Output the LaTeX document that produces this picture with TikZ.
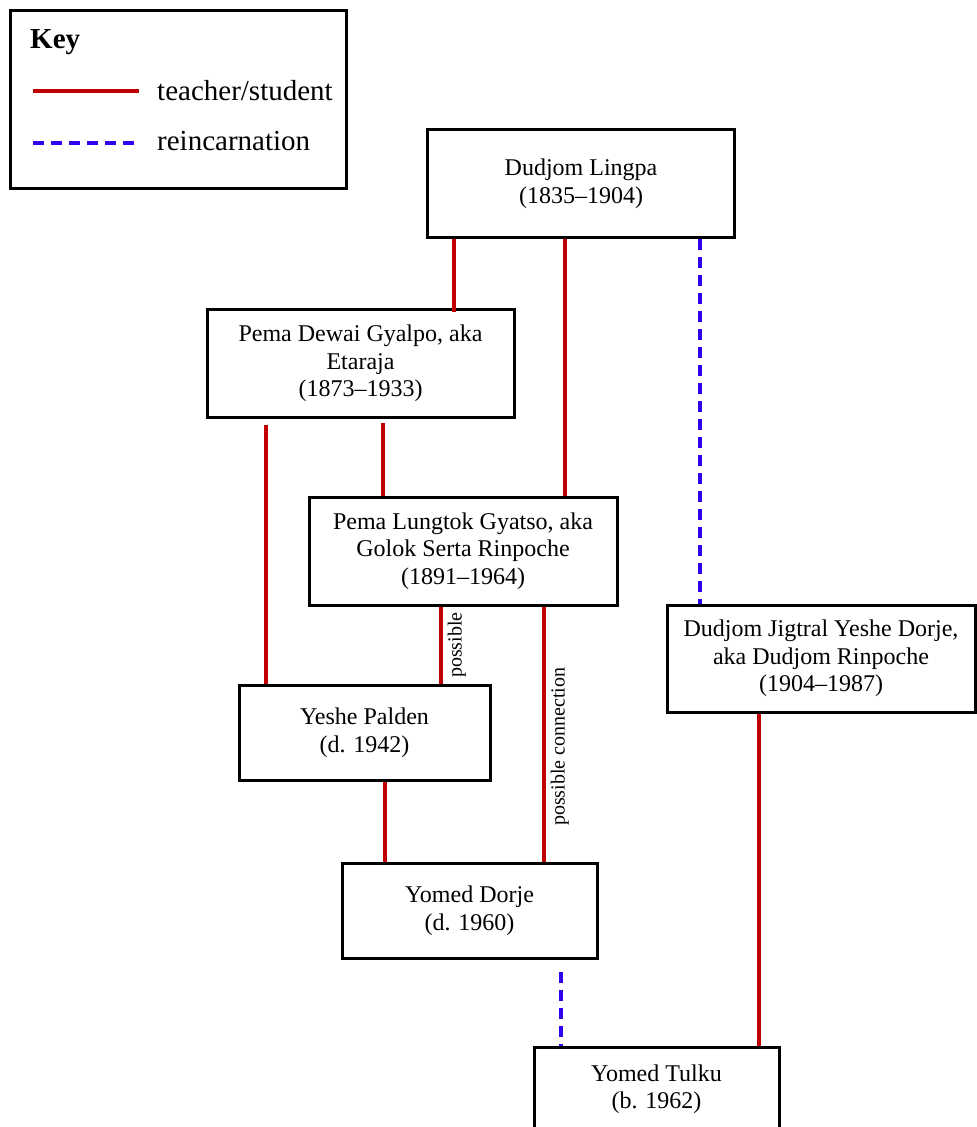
\documentclass[tikz,border=0pt]{standalone}
\usepackage{fontspec}
\setmainfont{Liberation Serif}
\usetikzlibrary{calc}
\definecolor{teachred}{RGB}{192,0,0}
\definecolor{reinblue}{RGB}{48,0,240}
\tikzstyle{person}=[draw, line width=3pt, align=center, inner sep=0pt, minimum width=307pt, minimum height=108pt, font=\fontsize{24}{27.5}\selectfont]
\tikzstyle{teach}=[draw=teachred, line width=3.5pt]
\tikzstyle{reinc}=[draw=reinblue, line width=3.5pt, dash pattern=on 11pt off 7pt]
\tikzstyle{lbl}=[rotate=90, anchor=north, inner sep=5pt, font=\fontsize{20}{22}\selectfont]
\tikzstyle{keytext}=[anchor=base west, inner sep=0pt, font=\fontsize{29}{32}\selectfont]

\begin{document}
\begin{tikzpicture}[x=1pt,y=1pt]
      \useasboundingbox (0,0) rectangle (977,-1127);

      % key
      \node [draw, line width=3pt, minimum width=336pt, minimum height=178pt, inner sep=0pt] (key) at (178,-99) {};
      \node [keytext, font=\fontsize{29}{32}\selectfont\bfseries] (keyhead) at (30,-48) {Key};
      \node [keytext] (keyteach) at (157,-100) {teacher/student};
      \node [keytext] (keyreinc) at (157,-150) {reincarnation};
      \coordinate (kt1) at (33,-91);
      \coordinate (kt2) at (139,-91);
      \coordinate (kr1) at (33,-143);
      \coordinate (kr2) at (139,-143);
      \draw[teach] (kt1) -- (kt2);
      \draw[reinc] (kr1) -- (kr2);

      % people
      \node [person] (lingpa) at (581,-183.5) {Dudjom Lingpa\\(1835--1904)};
      \node [person] (dewai) at (360.5,-363.5) {Pema Dewai Gyalpo, aka\\Etaraja\\(1873--1933)};
      \node [person, minimum width=308pt] (lungtok) at (463,-551) {Pema Lungtok Gyatso, aka\\Golok Serta Rinpoche\\(1891--1964)};
      \node [person, minimum width=251pt, minimum height=95pt] (palden) at (364.5,-732.5) {Yeshe Palden\\(d. 1942)};
      \node [person, minimum width=308pt, minimum height=107pt] (jigtral) at (821,-658.5) {Dudjom Jigtral Yeshe Dorje,\\aka Dudjom Rinpoche\\(1904--1987)};
      \node [person, minimum width=255pt, minimum height=95pt] (ydorje) at (469.5,-910.5) {Yomed Dorje\\(d. 1960)};
      \node [person, minimum width=245pt, minimum height=84pt] (tulku) at (656.5,-1089) {Yomed Tulku\\(b. 1962)};

      % teacher/student
      \draw[teach] ([xshift=-127pt]lingpa.south) -- ([xshift=-127pt,yshift=-4pt]lingpa.south |- dewai.north);
      \draw[teach] ([xshift=-16pt]lingpa.south) -- ([xshift=-16pt]lingpa.south |- lungtok.north);
      \draw[teach] ([xshift=-94.5pt,yshift=-6pt]dewai.south) -- ([xshift=-94.5pt]dewai.south |- palden.north);
      \draw[teach] ([xshift=22.5pt,yshift=-4pt]dewai.south) -- ([xshift=22.5pt]dewai.south |- lungtok.north);
      \draw[teach] ([xshift=-22pt]lungtok.south) -- node[lbl] (posslbl) {possible} ([xshift=-22pt]lungtok.south |- palden.north);
      \draw[teach] ([xshift=81pt]lungtok.south) -- node[lbl, pos=0.55] (connlbl) {possible connection} ([xshift=81pt]lungtok.south |- ydorje.north);
      \draw[teach] ([xshift=20.5pt]palden.south) -- ([xshift=20.5pt]palden.south |- ydorje.north);
      \draw[teach] ([xshift=-62pt]jigtral.south) -- ([xshift=-62pt]jigtral.south |- tulku.north);

      % reincarnation
      \draw[reinc] ([xshift=119pt]lingpa.south) -- ([xshift=119pt]lingpa.south |- jigtral.north);
      \draw[reinc] ([xshift=91.5pt,yshift=-12pt]ydorje.south) -- ([xshift=91.5pt]ydorje.south |- tulku.north);
\end{tikzpicture}
\end{document}
